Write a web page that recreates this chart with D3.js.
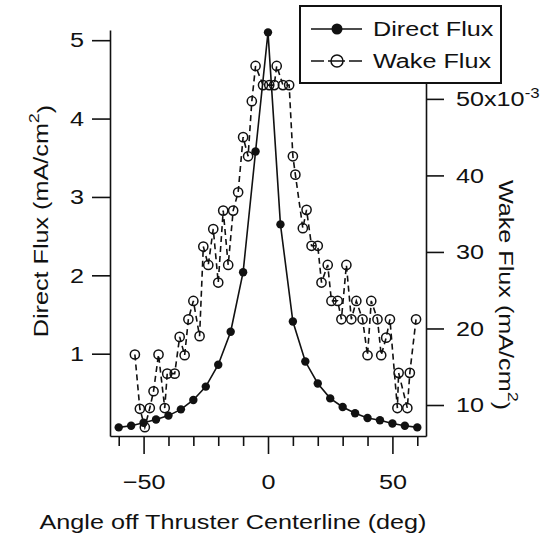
<!DOCTYPE html>
<html>
<head>
<meta charset="utf-8">
<script src="https://cdn.jsdelivr.net/npm/d3@7"></script>
<style>
  body { margin: 0; background: #fff; }
  text { font-family: "Liberation Sans", Arial, Helvetica, sans-serif; fill: #111; }
</style>
</head>
<body>
<script>
// direct flux (mA/cm^2), sampled every 5 deg
const directAngles = [-60, -55, -50, -45, -40, -35, -30, -25, -20, -15, -10, -5, 0,
  5, 10, 15, 20, 25, 30, 35, 40, 45, 50, 55, 60];
const directFlux = [0.06, 0.08, 0.12, 0.16, 0.21, 0.29, 0.41, 0.58, 0.86, 1.28, 2.04, 3.58, 5.1,
  2.65, 1.41, 0.90, 0.62, 0.43, 0.32, 0.24, 0.18, 0.15, 0.11, 0.08, 0.06];

// wake flux (x10^-3 mA/cm^2)
const wakeAngles = [-53.5, -51.5, -49.5, -47.5, -46, -44, -41.5, -40.5, -37.5, -35.5,
  -33.5, -32, -30, -27.5, -26, -24, -22, -20, -18, -16,
  -14, -12, -10, -8, -6.5, -5, -2, 0.5, 2.5, 3.5,
  6, 8.5, 10, 11, 14, 15.5, 17.5, 20, 21.5, 24,
  25.5, 28, 29.5, 31.5, 33.5, 35.5, 38, 40, 41.5, 44,
  45.5, 47.5, 49, 52, 52.5, 56, 57, 59.5];
const wakeFlux = [16.6, 9.5, 7.1, 9.6, 11.8, 16.6, 9.6, 14.1, 14.1, 18.9,
  16.5, 21.2, 23.6, 19.0, 30.7, 28.3, 33.0, 26.0, 35.4, 28.3,
  35.4, 37.8, 45.0, 42.5, 49.7, 54.3, 51.8, 51.8, 51.8, 54.3,
  51.8, 51.8, 42.5, 40.1, 33.1, 35.5, 30.8, 30.8, 26.0, 28.3,
  23.6, 23.6, 21.2, 28.3, 21.2, 23.6, 21.2, 16.5, 23.6, 21.2,
  16.5, 18.8, 21.2, 9.6, 14.2, 9.6, 14.2, 21.2];

const xMajorTicks = [-50, 0, 50];
const xMinorTicks = [-60, -40, -30, -20, -10, 10, 20, 30, 40, 60];
const leftTicks = [1, 2, 3, 4, 5];
const rightTicks = [10, 20, 30, 40, 50];
const rightTickLabels = ["10", "20", "30", "40", "50x10"];
const legendLabels = ["Direct Flux", "Wake Flux"];

(function() {

  let svgContainer = "";
  const stretch = "scale(1.2,1)";  // the scanned lettering is wide

  window.onload = function() {
    svgContainer = d3.select('body').append('svg')
      .attr('width', 552)
      .attr('height', 536);

    let scales = drawAxes();
    plotDirect(scales);
    plotWake(scales);
    makeLegend();
  }

  function drawAxes() {
    let xScale = d3.scaleLinear().domain([-63.5, 63.5]).range([110, 426]);
    let yLeft = d3.scaleLinear().domain([-0.05, 5.13]).range([436, 30]);
    let yRight = d3.scaleLinear().domain([5.95, 59.0]).range([436, 30]);

    // bottom axis, minor ticks first
    svgContainer.append('g')
      .attr('transform', 'translate(0, 436)')
      .call(d3.axisBottom(xScale).tickValues(xMinorTicks).tickSize(10).tickFormat(''))
      .call(g => g.select('.domain').remove());

    let xAxis = svgContainer.append('g')
      .attr('transform', 'translate(0, 436)')
      .call(d3.axisBottom(xScale).tickValues(xMajorTicks).tickSize(18).tickSizeOuter(0)
        .tickPadding(20).tickFormat(d3.format('d')));
    xAxis.selectAll('text').attr('transform', stretch);

    let leftAxis = svgContainer.append('g')
      .attr('transform', 'translate(110, 0)')
      .call(d3.axisLeft(yLeft).tickValues(leftTicks).tickSize(18).tickSizeOuter(0)
        .tickPadding(0).tickFormat(d3.format('d')));
    leftAxis.selectAll('text').attr('x', -26 / 1.2).attr('transform', stretch);

    let rightAxis = svgContainer.append('g')
      .attr('transform', 'translate(426, 0)')
      .call(d3.axisRight(yRight).tickValues(rightTicks).tickSize(18).tickSizeOuter(0)
        .tickPadding(0).tickFormat((d, i) => rightTickLabels[i]));
    rightAxis.selectAll('text').attr('x', 30 / 1.2).attr('transform', stretch);
    rightAxis.selectAll('.tick').filter(d => d == 50).select('text')
      .append('tspan')
        .text('-3')
        .attr('dy', '-0.55em')
        .style('font-size', '14px');

    svgContainer.selectAll('.domain, .tick line')
      .attr('stroke', '#111')
      .attr('stroke-width', 1.6);
    svgContainer.selectAll('.tick text')
      .style('font-size', '21px')
      .attr('fill', '#111');

    // axis titles
    svgContainer.append('text')
      .attr('transform', 'translate(233, 529) ' + stretch)
      .attr('text-anchor', 'middle')
      .style('font-size', '21px')
      .text('Angle off Thruster Centerline (deg)');

    let leftTitle = svgContainer.append('text')
      .attr('transform', 'translate(48, 221) rotate(-90) ' + stretch)
      .attr('text-anchor', 'middle')
      .style('font-size', '21px');
    leftTitle.append('tspan').text('Direct Flux (mA/cm');
    leftTitle.append('tspan').text('2').attr('dy', '-0.6em').style('font-size', '15px');
    leftTitle.append('tspan').text(')').attr('dy', '0.6em');

    let rightTitle = svgContainer.append('text')
      .attr('transform', 'translate(499, 295) rotate(90) ' + stretch)
      .attr('text-anchor', 'middle')
      .style('font-size', '21px');
    rightTitle.append('tspan').text('Wake Flux (mA/cm');
    rightTitle.append('tspan').text('2').attr('dy', '-0.6em').style('font-size', '15px');
    rightTitle.append('tspan').text(')').attr('dy', '0.6em');

    return { x: xScale, yLeft: yLeft, yRight: yRight };
  }

  // solid line with filled dots
  function plotDirect(s) {
    let pts = directAngles.map((a, i) => [a, directFlux[i]]);
    let line = d3.line()
      .x(d => s.x(d[0]))
      .y(d => s.yLeft(d[1]));

    svgContainer.append('path')
      .datum(pts)
      .attr('d', line)
      .attr('fill', 'none')
      .attr('stroke', '#111')
      .attr('stroke-width', 1.6);

    svgContainer.selectAll('.direct')
      .data(pts)
      .enter()
      .append('circle')
        .attr('class', 'direct')
        .attr('cx', d => s.x(d[0]))
        .attr('cy', d => s.yLeft(d[1]))
        .attr('r', 4.2)
        .attr('fill', '#111');
  }

  // dashed line with open circles
  function plotWake(s) {
    let pts = wakeAngles.map((a, i) => [a, wakeFlux[i]]);
    let line = d3.line()
      .x(d => s.x(d[0]))
      .y(d => s.yRight(d[1]));

    svgContainer.append('path')
      .datum(pts)
      .attr('d', line)
      .attr('fill', 'none')
      .attr('stroke', '#111')
      .attr('stroke-width', 1.6)
      .style('stroke-dasharray', '6, 4');

    svgContainer.selectAll('.wake')
      .data(pts)
      .enter()
      .append('circle')
        .attr('class', 'wake')
        .attr('cx', d => s.x(d[0]))
        .attr('cy', d => s.yRight(d[1]))
        .attr('r', 4.6)
        .attr('fill', 'none')
        .attr('stroke', '#111')
        .attr('stroke-width', 1.5);
  }

  function makeLegend() {
    svgContainer.append('rect')
      .attr('x', 300)
      .attr('y', 6)
      .attr('width', 201)
      .attr('height', 77)
      .attr('fill', 'white')
      .attr('stroke', '#111')
      .attr('stroke-width', 2);

    svgContainer.append('line')
      .attr('x1', 311).attr('x2', 362)
      .attr('y1', 29).attr('y2', 29)
      .attr('stroke', '#111')
      .attr('stroke-width', 1.6);
    svgContainer.append('circle')
      .attr('cx', 337).attr('cy', 29).attr('r', 5.5)
      .attr('fill', '#111');

    svgContainer.append('line')
      .attr('x1', 311).attr('x2', 362)
      .attr('y1', 61).attr('y2', 61)
      .attr('stroke', '#111')
      .attr('stroke-width', 1.6)
      .style('stroke-dasharray', '13, 4, 17, 4, 13');
    svgContainer.append('circle')
      .attr('cx', 337).attr('cy', 61).attr('r', 6)
      .attr('fill', 'none')
      .attr('stroke', '#111')
      .attr('stroke-width', 1.5);

    svgContainer.selectAll('.legendText')
      .data(legendLabels)
      .enter()
      .append('text')
        .attr('class', 'legendText')
        .attr('transform', (d, i) => 'translate(373, ' + (36 + i * 32) + ') ' + stretch)
        .style('font-size', '21px')
        .text(d => d);
  }

})();
</script>
</body>
</html>
